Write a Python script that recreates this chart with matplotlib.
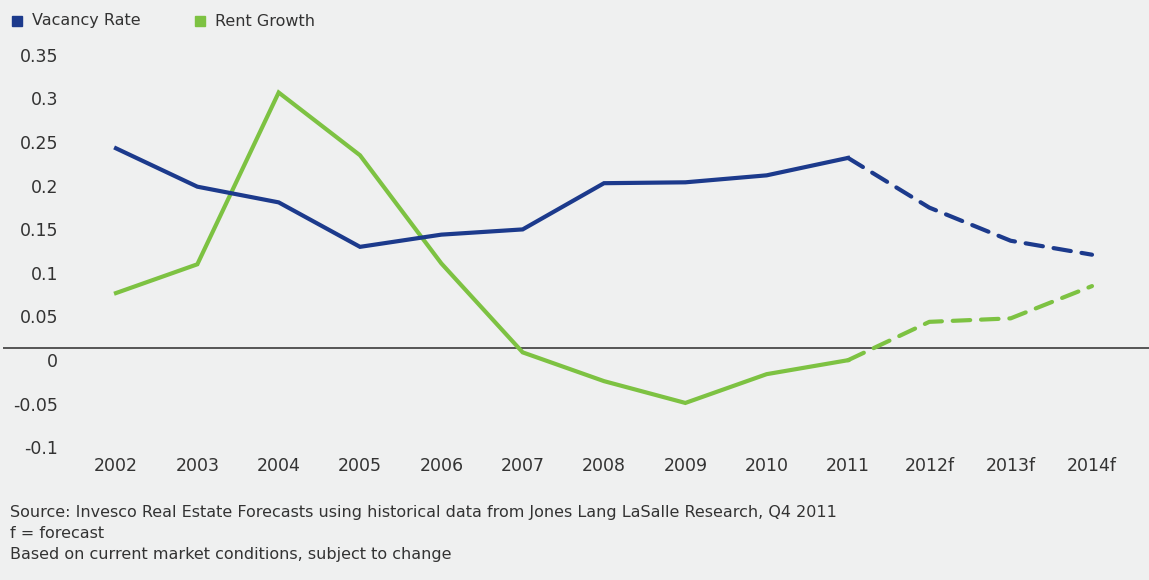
import matplotlib
matplotlib.use('Agg')
import matplotlib.pyplot as plt
from matplotlib.transforms import ScaledTranslation
from matplotlib.lines import Line2D

years = ['2002', '2003', '2004', '2005', '2006', '2007', '2008',
         '2009', '2010', '2011', '2012f', '2013f', '2014f']
vacancy_rate = [0.229, 0.185, 0.167, 0.116, 0.130, 0.136, 0.189,
                0.190, 0.198, 0.218, 0.161, 0.123, 0.107]
rent_growth = [0.063, 0.096, 0.293, 0.221, 0.097, -0.005, -0.038,
               -0.063, -0.030, -0.014, 0.030, 0.034, 0.071]
last_actual = 9  # 2011, forecasts after this
y_ticks = [0.35, 0.3, 0.25, 0.2, 0.15, 0.1, 0.05, 0, -0.05, -0.1]

notes = ["Source: Invesco Real Estate Forecasts using historical data from Jones Lang LaSalle Research, Q4 2011",
         "f = forecast",
         "Based on current market conditions, subject to change"]

bg = '#eff0f0'
blue = '#1c3a8c'
green = '#7dc242'
txt = '#333333'

plt.rcParams['font.family'] = ['DejaVu Sans']

W, H = 1149, 580
fig = plt.figure(figsize=(W / 100, H / 100), dpi=100, facecolor=bg)
ax = fig.add_axes([3 / W, 1 - 435.2 / H, 1146 / W, (435.2 - 42.8) / H])
ax.set_facecolor(bg)

x = list(range(len(years)))
for vals, col in [(rent_growth, green), (vacancy_rate, blue)]:
    ax.plot(x[:last_actual + 1], vals[:last_actual + 1], color=col, lw=3,
            solid_joinstyle='miter')
    ax.plot(x[last_actual:], vals[last_actual:], color=col, lw=3,
            linestyle=(0, (4.2, 2.6)), dash_capstyle='round')

ax.axhline(0, color='#555555', lw=1.4, zorder=1)

ax.set_xlim(-113 / 81.33, 12 + 57 / 81.33)
ax.set_ylim(-0.1, 0.35)
for s in ax.spines.values():
    s.set_visible(False)

ax.set_xticks(x)
ax.set_xticklabels(years, fontsize=12.5, color=txt)
ax.tick_params(axis='x', length=0, pad=15.5)
ax.set_yticks([])

# value labels sit a little below their level
shift = ScaledTranslation(0, -14 / 100, fig.dpi_scale_trans)
for v in y_ticks:
    ax.text(0.048, v, f'{v:g}', transform=ax.get_yaxis_transform() + shift,
            ha='right', va='center', fontsize=12.5, color=txt)

# legend row: square key + name
for name, col, kx, tx in [('Vacancy Rate', blue, 17, 32), ('Rent Growth', green, 200, 215)]:
    fig.add_artist(Line2D([kx / W], [1 - 21 / H], marker='s', ls='none',
                          color=col, markersize=7, transform=fig.transFigure))
    fig.text(tx / W, 1 - 21 / H, name, ha='left', va='center',
             fontsize=11.5, color=txt)

for i, line in enumerate(notes):
    fig.text(10 / W, 1 - (512 + 21.5 * i) / H, line, ha='left', va='center',
             fontsize=11.5, color=txt,
             family=['Liberation Sans Narrow', 'DejaVu Sans'])

fig.savefig('out.png', dpi=100, facecolor=bg)
